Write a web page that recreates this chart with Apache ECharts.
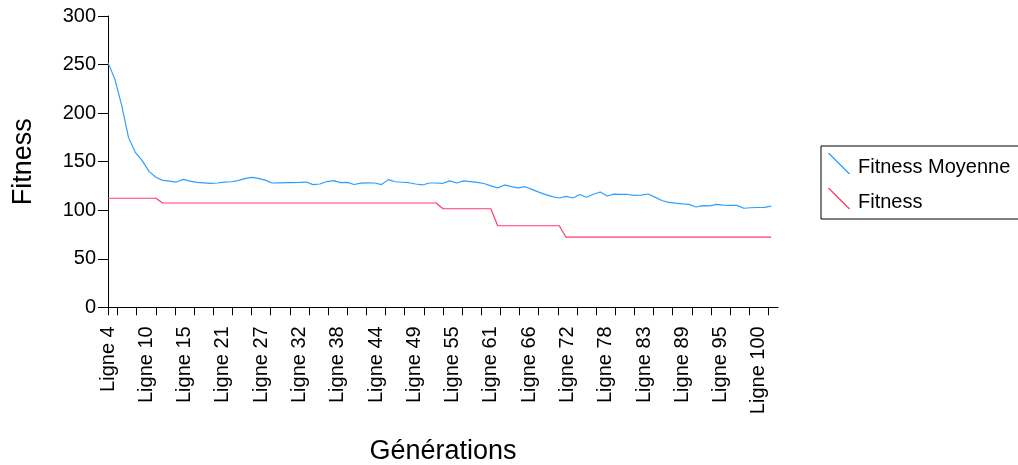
<!DOCTYPE html>
<html>
<head>
<meta charset="utf-8">
<script src="https://cdn.jsdelivr.net/npm/echarts@6/dist/echarts.min.js"></script>
<style>
html,body{margin:0;padding:0;background:#fff;}
#chart{width:1018px;height:465px;}
</style>
</head>
<body>
<div id="chart"></div>
<script>
// Point categories (rows of the sheet); last one carries no value
const categories = Array.from({length: 99}, (_, i) => 'Ligne ' + (i + 4));

// Tick labels shown under the x axis
const xTickLabels = ['Ligne 4','Ligne 10','Ligne 15','Ligne 21','Ligne 27','Ligne 32','Ligne 38','Ligne 44','Ligne 49','Ligne 55','Ligne 61','Ligne 66','Ligne 72','Ligne 78','Ligne 83','Ligne 89','Ligne 95','Ligne 100'];

// Fitness Moyenne (blue)
const fitnessMoyenne = [
  252,235,208,175,159.5,151,140,134,130.7,130,
  129,131.7,130,128.7,128.2,127.7,128,129,129.3,130.5,
  132.5,133.8,132.7,131,128,128.2,128.3,128.3,128.6,129,
  126.3,127,129.5,130.4,128.4,128.6,126.5,127.8,128.2,128,
  126.4,131.5,129.3,128.8,128.3,127,126,128,128,127.7,
  130.2,128,130.2,129.5,128.6,127.5,125,123,126,124.2,
  123,124.2,121.5,118.6,116,114,112.6,114.3,112.6,116.2,
  113.3,116.4,118.7,114.6,116.5,116.4,116.2,115.2,115.5,116.7,
  113.5,110,108,107.2,106.5,106,103.3,104.8,104.5,106,
  105.2,105,105,102,102.5,102.8,103,104.2
];

// Fitness (red)
const fitness = [
  112.3,112.3,112.3,112.3,112.3,112.3,112.3,112.3,107.4,107.4,
  107.4,107.4,107.4,107.4,107.4,107.4,107.4,107.4,107.4,107.4,
  107.4,107.4,107.4,107.4,107.4,107.4,107.4,107.4,107.4,107.4,
  107.4,107.4,107.4,107.4,107.4,107.4,107.4,107.4,107.4,107.4,
  107.4,107.4,107.4,107.4,107.4,107.4,107.4,107.4,107.4,101.5,
  101.5,101.5,101.5,101.5,101.5,101.5,101.5,84,84,84,
  84,84,84,84,84,84,84,72.2,72.2,72.2,
  72.2,72.2,72.2,72.2,72.2,72.2,72.2,72.2,72.2,72.2,
  72.2,72.2,72.2,72.2,72.2,72.2,72.2,72.2,72.2,72.2,
  72.2,72.2,72.2,72.2,72.2,72.2,72.2,72.2
];

const yTicks = [0, 50, 100, 150, 200, 250, 300];

// Label/tick axis: label every 4 steps, ticks on odd steps
const labelSlots = [];
for (let i = 0; i <= (xTickLabels.length - 1) * 4 + 2; i++) {
  labelSlots.push(i % 4 === 0 && xTickLabels[i / 4] ? xTickLabels[i / 4] : '');
}

// Legend glyph: diagonal stroke in the upper part of the item box
const legendIcon = 'path://M0,0 L1.4,0 L22,20.6 L22,21 L20.6,21 L0,0.4 Z M22,29 L22,29 L22,29 Z';

const FONT = 'Liberation Sans';
const chart = echarts.init(document.getElementById('chart'), null, {renderer: 'canvas'});
chart.setOption({
  animation: false,
  backgroundColor: '#ffffff',
  grid: {left: 108, right: 240, top: 16, bottom: 157.7, containLabel: false, outerBoundsMode: 'none'},
  xAxis: [
    {
      type: 'category', data: categories, boundaryGap: false, show: false
    },
    {
      type: 'category', data: labelSlots, boundaryGap: false, position: 'bottom',
      axisLine: {show: true, lineStyle: {color: '#000', width: 1}},
      axisTick: {show: true, length: 8, lineStyle: {color: '#000'},
        interval: function (i) { return i === 0 || i % 2 === 1; }},
      axisLabel: {show: true, rotate: 90, margin: 19, color: '#000',
        fontFamily: FONT, fontSize: 20,
        interval: function (i) { return i % 4 === 0; }},
      splitLine: {show: false},
      name: 'Générations', nameLocation: 'middle', nameGap: 131,
      nameTextStyle: {fontFamily: FONT, fontSize: 27, color: '#000'}
    }
  ],
  yAxis: {
    type: 'value', min: yTicks[0], max: yTicks[yTicks.length - 1], interval: 50,
    axisLine: {show: true, lineStyle: {color: '#000', width: 1}},
    axisTick: {show: true, length: 10, lineStyle: {color: '#000'}},
    axisLabel: {color: '#000', fontFamily: FONT, fontSize: 20, margin: 12},
    splitLine: {show: false},
    name: 'Fitness', nameLocation: 'middle', nameGap: 71, nameRotate: 90,
    nameTextStyle: {fontFamily: FONT, fontSize: 27, color: '#000'}
  },
  legend: {
    orient: 'vertical', left: 821, top: 146,
    padding: [7, 10, 2, 7], itemGap: 6, itemWidth: 22, itemHeight: 29,
    borderColor: '#000', borderWidth: 1, backgroundColor: '#fff',
    textStyle: {fontFamily: FONT, fontSize: 20, color: '#000', padding: [0, 0, 0, 3]},
    data: [
      {name: 'Fitness Moyenne', icon: legendIcon},
      {name: 'Fitness', icon: legendIcon}
    ]
  },
  series: [
    {
      name: 'Fitness Moyenne', type: 'line', xAxisIndex: 0, data: fitnessMoyenne,
      showSymbol: false, symbol: 'none', smooth: false,
      lineStyle: {color: '#2e9fff', width: 1.2}, itemStyle: {color: '#2e9fff'}
    },
    {
      name: 'Fitness', type: 'line', xAxisIndex: 0, data: fitness,
      showSymbol: false, symbol: 'none', smooth: false,
      lineStyle: {color: '#ff3d6e', width: 1.2}, itemStyle: {color: '#ff3d6e'}
    }
  ]
});
</script>
</body>
</html>
